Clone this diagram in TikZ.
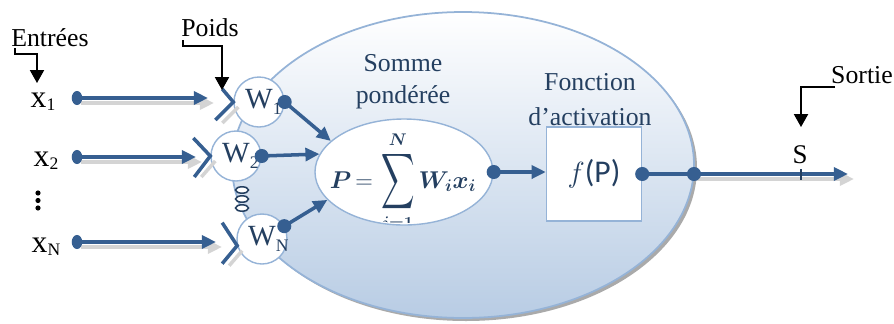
\documentclass[tikz,border=0pt]{standalone}
\usepackage{amsmath, amssymb, bm}
\usepackage{fontspec}
\setmainfont{Liberation Serif}
\newfontfamily\boxfont{Carlito}
\usetikzlibrary{arrows.meta, shapes.geometric}

\definecolor{lineblue}{RGB}{54,95,145}
\definecolor{navy}{RGB}{36,63,96}
\definecolor{rimblue}{RGB}{149,179,215}
\definecolor{fillblue}{RGB}{184,204,228}
\definecolor{shadowgray}{RGB}{212,212,212}

\newcommand{\xsub}[1]{\raisebox{-0.2ex}{\fontsize{15}{15}\selectfont #1}}
\newcommand{\wsub}[1]{\rlap{\raisebox{-0.5ex}{\fontsize{15}{15}\selectfont #1}}}
\newcommand{\tallsum}{\mathop{\vcenter{\hbox{\scalebox{0.9}[1.5]{$\displaystyle\sum$}}}}\limits}

\begin{document}
\begin{tikzpicture}[x=0.03cm, y=-0.03cm,
    wire/.style={line width=3pt, lineblue},
    wireshade/.style={line width=3pt, shadowgray},
    tip/.style={-{Triangle[length=12pt, width=11pt]}},
    wnode/.style={circle, draw=rimblue, line width=1.2pt, fill=white,
        minimum size=1.5cm, inner sep=0pt, text=navy,
        font=\fontsize{25}{25}\selectfont},
    callout/.style={line width=1.4pt, -{Triangle[length=11pt, width=12pt]}},
    lbl/.style={inner sep=0pt, font=\fontsize{22}{27}\selectfont},
    xlbl/.style={inner sep=0pt, font=\fontsize{27}{27}\selectfont}]
    \useasboundingbox (0,0) rectangle (894,323);

    % neuron body
    \fill[shadowgray!80!black] (466,168) ellipse [x radius=231, y radius=153];
    \shade[top color=white, bottom color=fillblue] (463,165) ellipse [x radius=231, y radius=153];
    \draw[rimblue, line width=1.5pt] (463,165) ellipse [x radius=231, y radius=153];

    % weighted sum and activation
    \node[ellipse, draw=rimblue, line width=1.2pt, fill=white, minimum width=5.34cm,
        minimum height=3.18cm, inner sep=0pt] (sum) at (404,172) {};
    \begin{scope}
        \clip (404,172) ellipse [x radius=87, y radius=51];
        \node[anchor=base, text=navy, inner sep=0pt, font=\fontsize{22}{22}\selectfont] (formula) at (403,188)
            {$\bm{P}\,{=}\,\tallsum_{\bm{i=1}}^{\bm{N}}\bm{W_i x_i}$};
    \end{scope}
    \node[draw=rimblue, line width=1.2pt, fill=white, minimum width=2.85cm,
        minimum height=2.82cm, inner sep=0pt, text=navy,
        font=\boxfont\fontsize{27}{27}\selectfont] (act) at (594,174) {$f$(P)};

    % weights
    \node[wnode] (W1) at (259,102) {W\wsub{1}};
    \node[wnode] (W2) at (236,156) {W\wsub{2}};
    \node[wnode] (WN) at (262,239) {W\wsub{N}};
    \foreach \yy in {190,199,208}
        \draw[navy, line width=1.3pt, fill=white] (242,\yy) ellipse [x radius=6.5, y radius=3.2];

    % inputs
    \coordinate (in1) at (77,98);   \coordinate (end1) at (208,98);
    \coordinate (in2) at (77,157);  \coordinate (end2) at (196,157);
    \coordinate (inN) at (77,242);  \coordinate (endN) at (216,242);
    \foreach \k in {1,2,N} {
        \draw[wireshade, tip] ([shift={(4,5)}]in\k) -- ([shift={(6,5)}]end\k);
        \draw[wire, tip] (in\k) -- (end\k);
        \fill[lineblue] (in\k) ellipse [x radius=4.5pt, y radius=6pt];
    }
    \draw[wireshade] ([shift={(5,5)}]W1.west) -- ++(-16,16);
    \draw[wireshade] ([shift={(5,5)}]W2.west) -- ++(-14,16);
    \draw[wireshade] ([shift={(5,5)}]WN.195) -- ++(-13,15);
    \draw[wire] ([shift={(-11,-13)}]W1.west) -- (W1.west) -- ++(-18,18);
    \draw[wire] ([shift={(-17,-18)}]W2.west) -- (W2.west) -- ++(-16,21);
    \draw[wire] ([shift={(-15,-23)}]WN.195) -- (WN.195) -- ++(-15,18);

    % weighted connections
    \draw[wire, tip] (W1.east) -- (sum.157);
    \draw[wire, tip] (W2.east) -- (sum.168);
    \draw[wire, tip] (WN.30) -- (sum.200);
    \fill[lineblue] (W1.east) circle (6pt);
    \fill[lineblue] (W2.east) circle (6pt);
    \fill[lineblue] (WN.30) circle (6pt);

    % output
    \coordinate (rim) at (694,174);
    \coordinate (out) at (848,174);
    \draw[wire, tip] (sum.east) -- (sum.east -| act.west);
    \fill[lineblue] (sum.east) circle (6pt);
    \draw[wireshade, tip] ([shift={(2,5)}]rim) -- ([shift={(6,5)}]out);
    \draw[wire] (act.east) -- (rim);
    \draw[wire, tip] (rim) -- (out);
    \fill[lineblue] (act.east) circle (6pt);
    \fill[lineblue] (rim) circle (6pt);
    \draw[navy, line width=1pt] (801,169) -- (801,180);

    % labels
    \node[xlbl] (x1) at (43,102) {x\xsub{1}};
    \node[xlbl] (x2) at (46,161) {x\xsub{2}};
    \node[xlbl] (xN) at (46,247) {x\xsub{N}};
    \foreach \yy in {193,200.5,208}
        \fill (38,\yy) circle (2.2pt);
    \node[lbl] (entrees) at (50,38) {Entrées};
    \node[lbl] (poids) at (210,28) {Poids};
    \node[lbl] (sortie) at (862,75) {Sortie};
    \node[inner sep=0pt, font=\fontsize{23}{23}\selectfont] (S) at (800,155) {S};
    \node[lbl, text=navy, align=center] (somme) at (403,82) {Somme\\pondérée};
    \node[lbl, text=navy, align=center, font=\fontsize{22}{30}\selectfont] (fonction) at (590,100) {Fonction\\d’activation};

    % callouts
    \coordinate (ein) at (15,48);
    \coordinate (pin) at (183,40);
    \coordinate (sin) at (835,87);
    \draw[callout] (ein) -- ++(0,6) -- ++(22,0) -- ++(0,29);
    \draw[callout] (pin) -- ++(0,6) -- ++(39,0) -- ++(0,44);
    \draw[callout] (sin) -- ++(-34,0) -- ++(0,40);
\end{tikzpicture}
\end{document}
